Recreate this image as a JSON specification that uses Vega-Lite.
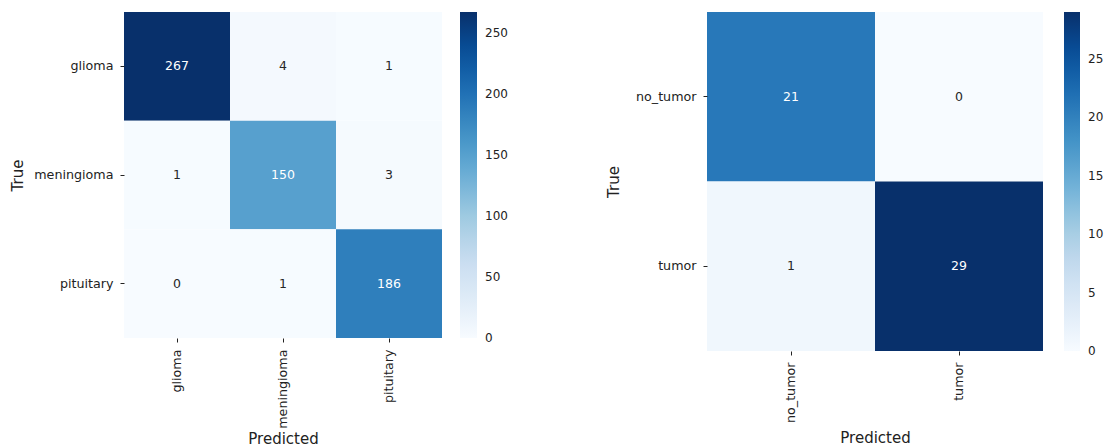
{
  "$schema": "https://vega.github.io/schema/vega-lite/v6.json",
  "background": "white",
  "padding": {"left": 10, "top": 12, "right": 0, "bottom": 0},
  "spacing": 98,
  "config": {
    "font": "DejaVu Sans",
    "view": {"stroke": null},
    "axis": {
      "domain": false,
      "ticks": true,
      "tickSize": 4,
      "tickColor": "#222222",
      "labelColor": "#222222",
      "labelFont": "DejaVu Sans",
      "labelFontSize": 12.7,
      "labelPadding": 7,
      "titleFont": "DejaVu Sans",
      "titleFontSize": 15,
      "titleFontWeight": "normal",
      "titleColor": "#222222",
      "grid": false
    },
    "legend": {
      "labelFont": "DejaVu Sans",
      "labelFontSize": 12,
      "labelColor": "#222222"
    }
  },
  "datasets": {
    "multi": [
      {"actual": "glioma", "predicted": "glioma", "count": 267},
      {"actual": "glioma", "predicted": "meningioma", "count": 4},
      {"actual": "glioma", "predicted": "pituitary", "count": 1},
      {"actual": "meningioma", "predicted": "glioma", "count": 1},
      {"actual": "meningioma", "predicted": "meningioma", "count": 150},
      {"actual": "meningioma", "predicted": "pituitary", "count": 3},
      {"actual": "pituitary", "predicted": "glioma", "count": 0},
      {"actual": "pituitary", "predicted": "meningioma", "count": 1},
      {"actual": "pituitary", "predicted": "pituitary", "count": 186}
    ],
    "binary": [
      {"actual": "no_tumor", "predicted": "no_tumor", "count": 21},
      {"actual": "no_tumor", "predicted": "tumor", "count": 0},
      {"actual": "tumor", "predicted": "no_tumor", "count": 1},
      {"actual": "tumor", "predicted": "tumor", "count": 29}
    ]
  },
  "hconcat": [
    {
      "width": 318,
      "height": 326,
      "data": {"name": "multi"},
      "encoding": {
        "x": {"field": "predicted", "type": "nominal", "sort": ["glioma", "meningioma", "pituitary"], "title": "Predicted", "axis": {"labelAngle": -90, "titlePadding": 3}},
        "y": {"field": "actual", "type": "nominal", "sort": ["glioma", "meningioma", "pituitary"], "title": "True", "axis": {"titlePadding": 8}}
      },
      "layer": [
        {
          "mark": {"type": "rect"},
          "encoding": {
            "color": {
              "field": "count", "type": "quantitative",
              "scale": {
                "type": "linear",
                "domain": [0, 33.375, 66.75, 100.125, 133.5, 166.875, 200.25, 233.625, 267],
                "range": ["#f7fbff", "#deebf7", "#c6dbef", "#9ecae1", "#6baed6", "#4292c6", "#2171b5", "#08519c", "#08306b"],
                "interpolate": "rgb", "nice": false
              },
              "legend": {"type": "gradient", "title": null, "values": [0, 50, 100, 150, 200, 250], "gradientLength": 326, "gradientThickness": 17, "gradientStrokeWidth": 0, "offset": 18, "labelOffset": 8,
                "encode": {"labels": {"enter": {"baseline": {"value": "middle"}}, "update": {"baseline": {"value": "middle"}}}}}
            }
          }
        },
        {
          "mark": {"type": "text", "fontSize": 12.5, "font": "DejaVu Sans"},
          "encoding": {
            "text": {"field": "count", "type": "quantitative"},
            "color": {"condition": {"test": "datum.count > 130", "value": "#ffffff"}, "value": "#262626"}
          }
        }
      ]
    },
    {
      "width": 336,
      "height": 339,
      "data": {"name": "binary"},
      "encoding": {
        "x": {"field": "predicted", "type": "nominal", "sort": ["no_tumor", "tumor"], "title": "Predicted", "axis": {"labelAngle": -90, "titlePadding": 8}},
        "y": {"field": "actual", "type": "nominal", "sort": ["no_tumor", "tumor"], "title": "True", "axis": {"titlePadding": 14}}
      },
      "layer": [
        {
          "mark": {"type": "rect"},
          "encoding": {
            "color": {
              "field": "count", "type": "quantitative",
              "scale": {
                "type": "linear",
                "domain": [0, 3.625, 7.25, 10.875, 14.5, 18.125, 21.75, 25.375, 29],
                "range": ["#f7fbff", "#deebf7", "#c6dbef", "#9ecae1", "#6baed6", "#4292c6", "#2171b5", "#08519c", "#08306b"],
                "interpolate": "rgb", "nice": false
              },
              "legend": {"type": "gradient", "title": null, "values": [0, 5, 10, 15, 20, 25], "gradientLength": 339, "gradientThickness": 16, "gradientStrokeWidth": 0, "offset": 21, "labelOffset": 8,
                "encode": {"labels": {"enter": {"baseline": {"value": "middle"}}, "update": {"baseline": {"value": "middle"}}}}}
            }
          }
        },
        {
          "mark": {"type": "text", "fontSize": 12.5, "font": "DejaVu Sans"},
          "encoding": {
            "text": {"field": "count", "type": "quantitative"},
            "color": {"condition": {"test": "datum.count > 15", "value": "#ffffff"}, "value": "#262626"}
          }
        }
      ]
    }
  ],
  "resolve": {"scale": {"color": "independent"}}
}
